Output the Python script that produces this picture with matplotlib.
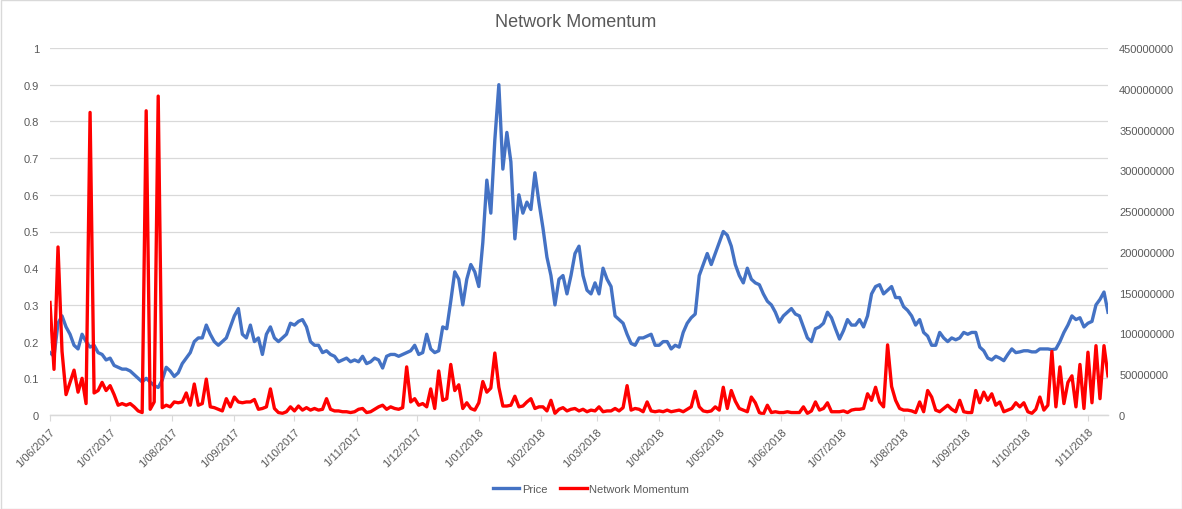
import numpy as np
import pandas as pd
import matplotlib
matplotlib.use('Agg')
import matplotlib.pyplot as plt
from matplotlib.patches import Rectangle

# values, one point every 2 days from 1/06/2017
start = '2017-06-01'
price = [
    0.17, 0.16, 0.25, 0.27, 0.24, 0.22, 0.19, 0.18, 0.22, 0.20,
    0.185, 0.19, 0.17, 0.165, 0.15, 0.155, 0.135, 0.13, 0.125, 0.125,
    0.12, 0.11, 0.10, 0.09, 0.10, 0.09, 0.08, 0.075, 0.095, 0.13,
    0.12, 0.105, 0.115, 0.14, 0.155, 0.17, 0.2, 0.21, 0.21, 0.245,
    0.22, 0.2, 0.19, 0.2, 0.21, 0.24, 0.27, 0.29, 0.22, 0.21,
    0.245, 0.2, 0.21, 0.165, 0.22, 0.24, 0.21, 0.2, 0.21, 0.22,
    0.25, 0.245, 0.255, 0.26, 0.24, 0.2, 0.19, 0.19, 0.17, 0.175,
    0.165, 0.16, 0.145, 0.15, 0.155, 0.145, 0.15, 0.145, 0.16, 0.14,
    0.145, 0.155, 0.15, 0.128, 0.16, 0.165, 0.165, 0.16, 0.165, 0.17,
    0.175, 0.19, 0.165, 0.17, 0.22, 0.18, 0.17, 0.175, 0.24, 0.235,
    0.31, 0.39, 0.37, 0.30, 0.37, 0.41, 0.39, 0.35, 0.47, 0.64,
    0.55, 0.75, 0.9, 0.67, 0.77, 0.69, 0.48, 0.6, 0.55, 0.58,
    0.56, 0.66, 0.58, 0.51, 0.43, 0.38, 0.30, 0.37, 0.38, 0.33,
    0.38, 0.44, 0.46, 0.38, 0.34, 0.33, 0.36, 0.33, 0.40, 0.37,
    0.35, 0.27, 0.26, 0.25, 0.22, 0.195, 0.19, 0.21, 0.21, 0.215,
    0.22, 0.19, 0.19, 0.2, 0.2, 0.18, 0.19, 0.185, 0.225, 0.25,
    0.265, 0.275, 0.38, 0.41, 0.44, 0.41, 0.44, 0.47, 0.50, 0.49,
    0.46, 0.41, 0.38, 0.36, 0.40, 0.37, 0.36, 0.355, 0.33, 0.31,
    0.30, 0.28, 0.253, 0.27, 0.28, 0.29, 0.275, 0.27, 0.24, 0.21,
    0.2, 0.235, 0.24, 0.25, 0.28, 0.265, 0.235, 0.207, 0.23, 0.26,
    0.245, 0.245, 0.26, 0.24, 0.27, 0.33, 0.35, 0.355, 0.33, 0.34,
    0.35, 0.32, 0.32, 0.295, 0.285, 0.27, 0.245, 0.26, 0.225, 0.215,
    0.19, 0.19, 0.225, 0.21, 0.2, 0.21, 0.205, 0.21, 0.225, 0.22,
    0.225, 0.225, 0.185, 0.175, 0.155, 0.15, 0.16, 0.155, 0.148, 0.165,
    0.18, 0.17, 0.172, 0.175, 0.175, 0.172, 0.172, 0.18, 0.18, 0.18,
    0.178, 0.18, 0.2, 0.225, 0.245, 0.27, 0.26, 0.265, 0.24, 0.25,
    0.255, 0.30, 0.315, 0.335, 0.28,
]
# network momentum, millions
momentum = [
    138, 56, 206, 78, 25, 40, 55, 28, 45, 14,
    371, 27, 30, 40, 30, 36, 25, 12, 14, 12,
    14, 10, 5, 3, 373, 7, 16, 391, 9, 12,
    10, 16, 15, 16, 27, 12, 38, 12, 14, 44,
    10, 9, 7, 5, 20, 10, 22, 16, 15, 16,
    16, 19, 7, 8, 10, 32, 8, 3, 2, 4,
    10, 5, 11, 6, 9, 6, 8, 6, 7, 20,
    7, 5, 5, 4, 4, 3, 4, 7, 8, 3,
    4, 7, 10, 12, 7, 10, 8, 7, 9, 59,
    16, 20, 12, 14, 10, 32, 8, 54, 18, 20,
    62, 30, 37, 8, 15, 8, 6, 15, 41, 28,
    33, 76, 34, 11, 11, 12, 23, 10, 11, 16,
    20, 8, 10, 10, 5, 18, 2, 7, 9, 5,
    7, 8, 5, 7, 4, 6, 5, 10, 4, 5,
    5, 8, 5, 9, 36, 6, 8, 7, 4, 16,
    5, 4, 5, 4, 6, 4, 5, 6, 4, 7,
    10, 29, 10, 5, 4, 5, 10, 6, 34, 8,
    30, 17, 8, 6, 4, 22, 15, 3, 1, 12,
    3, 4, 3, 3, 4, 3, 3, 3, 10, 2,
    5, 16, 6, 8, 15, 4, 4, 4, 5, 3,
    6, 7, 7, 8, 26, 18, 34, 16, 10, 86,
    35, 18, 8, 6, 6, 5, 3, 16, 4, 30,
    22, 6, 4, 8, 12, 7, 4, 18, 4, 3,
    3, 30, 15, 28, 18, 26, 12, 16, 4, 6,
    8, 15, 10, 15, 4, 2, 7, 22, 6, 12,
    78, 10, 59, 14, 40, 48, 10, 62, 8, 77,
    15, 85, 20, 85, 48,
]

dates = pd.date_range(start, periods=len(price), freq='2D')
months = pd.date_range('2017-06-01', '2018-11-01', freq='MS')
left_ticks = [0, 0.1, 0.2, 0.3, 0.4, 0.5, 0.6, 0.7, 0.8, 0.9, 1]
right_ticks = [0, 50e6, 100e6, 150e6, 200e6, 250e6, 300e6, 350e6, 400e6, 450e6]

grey = '#595959'
grid = '#d9d9d9'
plt.rcParams['font.family'] = ['Liberation Sans', 'DejaVu Sans']

fig = plt.figure(figsize=(11.82, 5.10), dpi=100)
ax = fig.add_axes([50/1182, 1 - 416/510, 1058/1182, 367/510])
ax2 = ax.twinx()

l1, = ax.plot(dates, price, color='#4472C4', lw=2.4, solid_joinstyle='round')
l2, = ax2.plot(dates, np.array(momentum) * 1e6, color='#FF0000', lw=2.4,
               solid_joinstyle='round')

ax.set_xlim(dates[0], dates[-1])
ax.set_ylim(0, 1)
ax2.set_ylim(0, 450e6)
ax.set_yticks(left_ticks)
ax.set_yticklabels([f'{v:g}' for v in left_ticks])
ax2.set_yticks(right_ticks)
ax2.set_yticklabels([str(int(v)) for v in right_ticks])

ax.set_xticks(months)
ax.set_xticklabels([f'{d.day}/{d.month:02d}/{d.year}' for d in months],
                   rotation=45, ha='right', rotation_mode='anchor')

ax.grid(axis='y', color=grid, lw=0.9)
ax.set_axisbelow(True)
for a in (ax, ax2):
    for s in ('top', 'left', 'right'):
        a.spines[s].set_visible(False)
    a.spines['bottom'].set_color(grid)
    a.spines['bottom'].set_linewidth(0.9)
ax.tick_params(axis='y', length=0, labelsize=8, labelcolor=grey, pad=8)
ax2.tick_params(axis='y', length=0, labelsize=8, labelcolor=grey, pad=8)
ax.tick_params(axis='x', length=4, color=grid, labelsize=8, labelcolor=grey, pad=4)

fig.text(0.487, 0.955, 'Network Momentum', ha='center', va='center',
         fontsize=13, color=grey)
fig.legend([l1, l2], ['Price', 'Network Momentum'], loc='center',
           bbox_to_anchor=(0.5, 0.04), ncol=2, frameon=False, fontsize=8,
           handlelength=2.4, columnspacing=1.2, handletextpad=0.2,
           labelcolor=grey)

fig.patches.append(Rectangle((0.5/1182, 0.5/510), 1 - 1/1182, 1 - 1/510,
                             transform=fig.transFigure, fill=False,
                             edgecolor=grid, lw=1))

fig.savefig('out.png', dpi=100)
